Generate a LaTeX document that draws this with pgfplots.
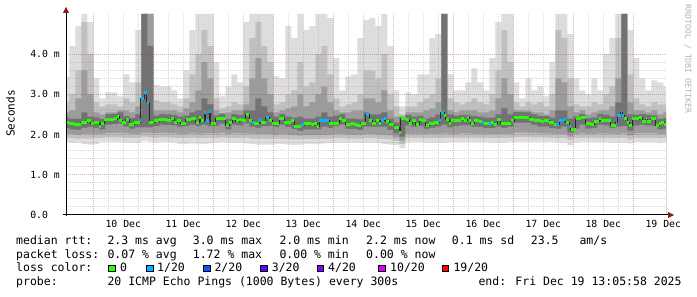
\documentclass[border=0pt]{standalone}
\usepackage{fontspec}
\setmainfont{DejaVu Sans Mono}
\usepackage{pgfplots}
\pgfplotsset{compat=1.18}
\usepackage{pgfplotstable}

\definecolor{c1}{HTML}{DDDDDD}
\definecolor{c2}{HTML}{C0C0C0}
\definecolor{c3}{HTML}{9C9C9C}
\definecolor{c4}{HTML}{727272}
\definecolor{lgreen}{HTML}{26FF00}
\definecolor{lone}{HTML}{00B8FF}
\definecolor{ltwo}{HTML}{0059FF}
\definecolor{lthree}{HTML}{5E00FF}
\definecolor{lfour}{HTML}{7E00FF}
\definecolor{lten}{HTML}{DD00FF}
\definecolor{lnineteen}{HTML}{FF0000}
\definecolor{mgrid}{HTML}{B03030}
\definecolor{mingrid}{HTML}{8C8C8C}
\definecolor{arrowred}{HTML}{8B1A1A}
\definecolor{wmark}{HTML}{B4B4B4}

% smoke bands: x (days, 10 = 10 Dec 00:00), upper/lower edges of the grey layers (ms)
\pgfplotstableread[row sep=\\]{
x u1 u2 u3 u4 l4 l3 l2 l1\\
9.5 3.44 2.80 2.55 2.43 2.17 2.02 1.92 1.81\\
9.6 4.20 3.00 2.60 2.39 2.13 2.01 1.91 1.80\\
9.7 4.70 3.60 2.90 2.40 2.12 2.00 1.90 1.80\\
9.8 5.00 4.80 3.60 2.55 2.17 2.01 1.90 1.76\\
9.9 4.80 4.00 3.00 2.45 2.19 2.02 1.90 1.75\\
10.0 3.40 2.80 2.55 2.43 2.17 2.02 1.91 1.76\\
10.1 2.90 2.70 2.50 2.39 2.13 2.02 1.92 1.82\\
10.2 3.05 2.75 2.55 2.51 2.25 2.04 1.93 1.82\\
10.3 3.05 2.75 2.55 2.52 2.26 2.04 1.93 1.81\\
10.4 2.95 2.70 2.60 2.55 2.27 2.04 1.93 1.81\\
10.5 3.50 2.90 2.60 2.46 2.20 2.03 1.92 1.80\\
10.6 3.30 2.80 2.55 2.41 2.15 2.02 1.92 1.80\\
10.7 4.60 3.30 2.70 2.50 2.18 2.02 1.92 1.79\\
10.8 5.00 5.00 5.00 5.00 2.18 2.05 1.95 1.84\\
10.9 5.00 5.00 5.00 4.20 2.18 2.04 1.93 1.82\\
11.0 3.24 2.85 2.60 2.47 2.21 2.03 1.92 1.80\\
11.1 3.20 2.80 2.60 2.51 2.25 2.04 1.93 1.81\\
11.2 3.20 2.80 2.60 2.50 2.24 2.03 1.93 1.81\\
11.3 3.10 2.75 2.60 2.49 2.23 2.03 1.92 1.80\\
11.4 2.90 2.70 2.55 2.45 2.19 2.02 1.91 1.77\\
11.5 3.60 2.90 2.65 2.47 2.21 2.02 1.91 1.77\\
11.6 4.60 3.50 2.80 2.55 2.25 2.03 1.92 1.78\\
11.7 5.00 4.00 3.10 2.60 2.22 2.02 1.91 1.77\\
11.8 5.00 4.60 3.80 2.90 2.25 2.03 1.92 1.77\\
11.9 5.00 4.20 3.40 2.75 2.22 2.03 1.92 1.78\\
12.0 3.80 2.90 2.60 2.48 2.22 2.03 1.92 1.80\\
12.1 2.95 2.65 2.50 2.53 2.27 2.04 1.93 1.81\\
12.2 3.20 2.70 2.55 2.39 2.13 2.01 1.91 1.80\\
12.3 3.50 2.80 2.60 2.51 2.25 2.03 1.92 1.80\\
12.4 3.30 2.75 2.60 2.49 2.23 2.03 1.92 1.80\\
12.5 4.80 3.20 2.75 2.60 2.28 2.03 1.92 1.78\\
12.6 5.00 4.40 3.40 2.60 2.20 2.02 1.90 1.76\\
12.7 5.00 4.80 3.90 2.90 2.17 2.01 1.90 1.75\\
12.8 5.00 4.20 3.40 2.70 2.21 2.01 1.90 1.75\\
12.9 5.00 3.80 3.00 2.55 2.22 2.01 1.90 1.75\\
13.0 3.45 2.75 2.55 2.45 2.19 2.00 1.90 1.76\\
13.1 3.40 2.80 2.60 2.51 2.25 2.01 1.90 1.76\\
13.2 4.70 3.00 2.65 2.45 2.19 2.00 1.89 1.75\\
13.3 4.40 3.10 2.70 2.42 2.14 1.99 1.88 1.74\\
13.4 5.00 3.80 3.00 2.45 2.09 1.98 1.88 1.75\\
13.5 4.60 3.20 2.70 2.40 2.13 1.99 1.89 1.77\\
13.6 4.70 3.30 2.80 2.40 2.13 1.99 1.89 1.77\\
13.7 5.00 4.00 3.00 2.45 2.13 1.99 1.89 1.77\\
13.8 5.00 4.20 3.20 2.55 2.20 2.00 1.90 1.78\\
13.9 4.90 3.50 2.80 2.45 2.17 2.00 1.90 1.79\\
14.0 3.90 2.90 2.60 2.47 2.21 2.01 1.91 1.80\\
14.1 3.10 2.70 2.55 2.51 2.25 2.02 1.91 1.80\\
14.2 3.45 2.75 2.55 2.40 2.14 2.00 1.90 1.80\\
14.3 3.50 2.80 2.60 2.40 2.14 2.00 1.90 1.80\\
14.4 4.40 3.00 2.60 2.38 2.12 2.00 1.90 1.80\\
14.5 4.85 3.60 2.90 2.55 2.20 2.01 1.91 1.80\\
14.6 4.90 3.60 2.90 2.50 2.19 2.01 1.91 1.80\\
14.7 4.70 3.40 2.80 2.50 2.19 2.00 1.90 1.79\\
14.8 5.00 4.00 3.10 2.55 2.20 2.00 1.89 1.76\\
14.9 4.20 3.00 2.60 2.40 2.12 1.98 1.88 1.75\\
15.0 3.10 2.70 2.45 2.30 2.03 1.93 1.84 1.74\\
15.1 2.70 2.50 2.40 2.45 1.95 1.85 1.76 1.66\\
15.2 3.05 2.70 2.55 2.49 2.23 2.02 1.92 1.80\\
15.3 3.00 2.70 2.55 2.45 2.19 2.02 1.92 1.81\\
15.4 3.50 2.80 2.55 2.47 2.21 2.02 1.92 1.81\\
15.5 3.50 2.90 2.60 2.40 2.14 2.01 1.91 1.80\\
15.6 4.40 3.00 2.65 2.43 2.17 2.01 1.91 1.80\\
15.7 4.50 3.40 2.80 2.50 2.20 2.02 1.91 1.80\\
15.8 5.00 5.00 5.00 5.00 2.25 2.03 1.92 1.80\\
15.9 3.50 2.90 2.60 2.50 2.18 2.02 1.92 1.81\\
16.0 3.10 2.80 2.55 2.47 2.21 2.02 1.92 1.81\\
16.1 3.10 2.75 2.60 2.49 2.23 2.03 1.92 1.81\\
16.2 3.30 2.80 2.60 2.49 2.23 2.03 1.92 1.81\\
16.3 3.65 2.90 2.60 2.46 2.20 2.02 1.92 1.81\\
16.4 3.30 2.80 2.55 2.45 2.19 2.02 1.92 1.81\\
16.5 3.10 2.75 2.55 2.42 2.16 2.02 1.92 1.81\\
16.6 3.90 3.00 2.60 2.42 2.16 2.01 1.91 1.80\\
16.7 4.80 3.60 2.90 2.50 2.20 2.01 1.91 1.80\\
16.8 5.00 4.60 3.40 2.65 2.17 2.01 1.91 1.80\\
16.9 5.00 3.80 3.00 2.50 2.19 2.02 1.92 1.81\\
17.0 3.30 2.80 2.60 2.56 2.30 2.05 1.94 1.82\\
17.1 2.90 2.70 2.60 2.56 2.30 2.05 1.94 1.82\\
17.2 3.40 2.80 2.60 2.55 2.29 2.05 1.94 1.82\\
17.3 3.10 2.75 2.55 2.50 2.24 2.04 1.93 1.82\\
17.4 3.20 2.80 2.55 2.46 2.20 2.03 1.93 1.82\\
17.5 2.95 2.70 2.50 2.46 2.20 2.03 1.93 1.82\\
17.6 3.80 3.00 2.60 2.42 2.16 2.02 1.92 1.81\\
17.7 5.00 4.60 3.40 2.60 2.15 2.01 1.91 1.80\\
17.8 5.00 4.40 3.30 2.60 2.20 2.01 1.91 1.80\\
17.9 4.50 3.40 2.70 2.40 2.05 1.95 1.86 1.73\\
18.0 3.40 2.75 2.55 2.45 2.15 2.01 1.91 1.80\\
18.1 3.10 2.70 2.60 2.51 2.25 2.03 1.92 1.81\\
18.2 3.00 2.70 2.50 2.41 2.15 2.02 1.92 1.81\\
18.3 3.40 2.80 2.55 2.43 2.17 2.02 1.92 1.81\\
18.4 3.10 2.75 2.60 2.51 2.25 2.03 1.92 1.81\\
18.5 4.00 3.00 2.60 2.49 2.23 2.03 1.92 1.81\\
18.6 4.40 3.20 2.70 2.45 2.17 2.02 1.92 1.80\\
18.7 5.00 4.40 3.40 2.80 2.20 2.02 1.92 1.80\\
18.8 5.00 5.00 5.00 5.00 2.22 2.03 1.92 1.80\\
18.9 4.60 3.50 2.80 2.50 2.10 1.98 1.88 1.78\\
19.0 3.90 2.90 2.60 2.49 2.23 2.03 1.92 1.81\\
19.1 3.40 2.75 2.60 2.51 2.25 2.03 1.92 1.81\\
19.2 3.10 2.70 2.55 2.49 2.23 2.03 1.92 1.81\\
19.3 3.35 2.80 2.60 2.48 2.22 2.03 1.92 1.81\\
19.4 3.30 2.75 2.50 2.39 2.13 2.01 1.91 1.80\\
19.5 3.20 2.75 2.55 2.41 2.15 2.02 1.92 1.81\\
19.6 3.20 2.75 2.55 2.41 2.15 2.02 1.92 1.81\\
}\bands

% median rtt (ms)
\pgfplotstableread[row sep=\\]{
x y\\
9.545 2.31\\ 9.595 2.27\\ 9.68 2.24\\ 9.79 2.30\\ 9.90 2.34\\ 9.956 2.28\\
10.012 2.31\\ 10.095 2.20\\ 10.123 2.28\\ 10.179 2.38\\ 10.345 2.39\\ 10.40 2.45\\
10.429 2.36\\ 10.484 2.30\\ 10.54 2.38\\ 10.595 2.26\\ 10.68 2.30\\ 10.779 2.34\\
10.79 2.89\\ 10.846 3.05\\ 10.89 2.80\\ 10.929 2.31\\ 11.012 2.34\\ 11.095 2.38\\
11.235 2.36\\ 11.29 2.40\\ 11.345 2.30\\ 11.40 2.35\\ 11.457 2.28\\ 11.54 2.38\\
11.623 2.40\\ 11.707 2.31\\ 11.762 2.43\\ 11.79 2.34\\ 11.845 2.55\\ 11.873 2.35\\
11.929 2.57\\ 11.957 2.28\\ 12.04 2.40\\ 12.206 2.22\\ 12.262 2.31\\ 12.318 2.40\\
12.373 2.34\\ 12.429 2.38\\ 12.484 2.34\\ 12.54 2.50\\ 12.595 2.36\\ 12.65 2.30\\
12.679 2.28\\ 12.762 2.34\\ 12.79 2.31\\ 12.873 2.42\\ 12.929 2.35\\ 12.984 2.28\\
13.095 2.40\\ 13.179 2.31\\ 13.29 2.34\\ 13.345 2.20\\ 13.456 2.24\\ 13.512 2.28\\
13.623 2.24\\ 13.679 2.28\\ 13.734 2.20\\ 13.762 2.34\\ 13.845 2.36\\ 13.929 2.28\\
14.095 2.40\\ 14.151 2.34\\ 14.206 2.26\\ 14.29 2.28\\ 14.345 2.26\\ 14.40 2.23\\
14.457 2.28\\ 14.54 2.50\\ 14.595 2.36\\ 14.65 2.28\\ 14.706 2.34\\ 14.762 2.28\\
14.79 2.36\\ 14.845 2.40\\ 14.873 2.32\\ 14.929 2.24\\ 15.012 2.18\\ 15.095 2.06\\
15.123 2.40\\ 15.206 2.38\\ 15.262 2.28\\ 15.318 2.36\\ 15.373 2.26\\ 15.429 2.38\\
15.484 2.34\\ 15.54 2.23\\ 15.595 2.28\\ 15.679 2.30\\ 15.762 2.34\\ 15.79 2.55\\
15.845 2.47\\ 15.873 2.38\\ 15.929 2.28\\ 15.957 2.34\\ 16.123 2.39\\ 16.179 2.36\\
16.235 2.43\\ 16.262 2.36\\ 16.29 2.28\\ 16.345 2.36\\ 16.429 2.32\\ 16.484 2.30\\
16.512 2.28\\ 16.595 2.28\\ 16.623 2.31\\ 16.679 2.26\\ 16.734 2.38\\ 16.79 2.28\\
16.957 2.34\\ 17.012 2.43\\ 17.262 2.38\\ 17.345 2.36\\ 17.456 2.32\\ 17.512 2.35\\
17.595 2.30\\ 17.679 2.26\\ 17.762 2.34\\ 17.845 2.38\\ 17.873 2.31\\ 17.929 2.20\\
17.957 2.13\\ 18.04 2.39\\ 18.123 2.43\\ 18.206 2.27\\ 18.29 2.26\\ 18.345 2.32\\
18.429 2.40\\ 18.457 2.36\\ 18.623 2.22\\ 18.706 2.30\\ 18.734 2.47\\ 18.79 2.56\\
18.818 2.47\\ 18.845 2.40\\ 18.9 2.30\\ 18.929 2.22\\ 18.984 2.39\\ 19.095 2.43\\
19.151 2.32\\ 19.206 2.39\\ 19.234 2.32\\ 19.29 2.39\\ 19.373 2.22\\ 19.429 2.28\\
19.457 2.31\\ 19.512 2.26\\ 19.545 2.26\\
}\median

\begin{document}
\begin{tikzpicture}
\fill[white] (0bp,0bp) rectangle (697bp,297bp);
\useasboundingbox (0bp,0bp) rectangle (697bp,297bp);
\begin{axis}[
  at={(66bp,82bp)}, anchor=south west,
  scale only axis, width=600bp, height=201bp,
  xmin=9.5455, xmax=19.5455, ymin=0, ymax=5,
  axis on top,
  axis line style={draw=none},
  tick style={draw=none},
  major tick length=0pt, minor tick length=0pt,
  xtick={10,11,12,13,14,15,16,17,18,19}, xticklabels={},
  minor x tick num=3,
  extra x ticks={10.5,11.5,12.5,13.5,14.5,15.5,16.5,17.5,18.5,19.5},
  extra x tick labels={10 Dec,11 Dec,12 Dec,13 Dec,14 Dec,15 Dec,16 Dec,17 Dec,18 Dec,19 Dec},
  extra x tick style={grid=none},
  xticklabel style={font=\fontsize{9.8bp}{10bp}\selectfont, anchor=base, inner sep=0pt, yshift=-13bp},
  ytick={0,1,2,3,4},
  yticklabels={0.0\hphantom{mm},1.0 m,2.0 m,3.0 m,4.0 m},
  minor y tick num=4,
  yticklabel style={font=\fontsize{9.8bp}{10bp}\selectfont, anchor=east, inner sep=0pt, xshift=-6bp},
  grid=both,
  major grid style={draw=mgrid, draw opacity=0.4, dash pattern=on 1bp off 1bp, line width=1bp},
  minor grid style={draw=mingrid, draw opacity=0.35, dash pattern=on 1bp off 1bp, line width=1bp},
]
\addplot[const plot, fill=c1, draw=none] table[x=x,y=u1]{\bands} \closedcycle;
\addplot[const plot, fill=c2, draw=none] table[x=x,y=u2]{\bands} \closedcycle;
\addplot[const plot, fill=c3, draw=none] table[x=x,y=u3]{\bands} \closedcycle;
\addplot[const plot, fill=c4, draw=none] table[x=x,y=u4]{\bands} \closedcycle;
\addplot[const plot, fill=c3, draw=none] table[x=x,y=l4]{\bands} \closedcycle;
\addplot[const plot, fill=c2, draw=none] table[x=x,y=l3]{\bands} \closedcycle;
\addplot[const plot, fill=c1, draw=none] table[x=x,y=l2]{\bands} \closedcycle;
\addplot[const plot, fill=white, draw=none] table[x=x,y=l1]{\bands} \closedcycle;
% median
\addplot[const plot, draw=black!85, line width=0.8bp] table[x=x,y=y]{\median};
\addplot[jump mark left, draw=lgreen, line width=3bp] table[x=x,y=y]{\median};
% 1/20 loss parts of the median
\addplot[draw=lone, line width=3bp, unbounded coords=jump] coordinates {
(10.779,2.34) (10.79,2.34) (10.79,nan)
(10.79,2.89) (10.846,2.89) (10.846,nan)
(10.846,3.05) (10.89,3.05) (10.89,nan)
(10.89,2.80) (10.929,2.80) (10.929,nan)
(11.845,2.55) (11.873,2.55) (11.873,nan)
(11.873,2.35) (11.929,2.35) (11.929,nan)
(11.929,2.57) (11.957,2.57) (11.957,nan)
(12.65,2.30) (12.679,2.30) (12.679,nan)
(12.762,2.34) (12.79,2.34) (12.79,nan)
(12.873,2.42) (12.929,2.42) (12.929,nan)
(13.456,2.24) (13.512,2.24) (13.512,nan)
(13.762,2.34) (13.845,2.34) (13.845,nan)
(13.845,2.36) (13.929,2.36) (13.929,nan)
(14.54,2.50) (14.595,2.50) (14.595,nan)
(14.79,2.36) (14.845,2.36) (14.845,nan)
(14.845,2.40) (14.873,2.40) (14.873,nan)
(15.762,2.34) (15.79,2.34) (15.79,nan)
(15.79,2.55) (15.845,2.55) (15.845,nan)
(16.484,2.30) (16.512,2.30) (16.512,nan)
(16.595,2.28) (16.623,2.28) (16.623,nan)
(17.706,2.26) (17.762,2.26) (17.762,nan)
(17.762,2.34) (17.845,2.34) (17.845,nan)
(17.845,2.38) (17.873,2.38) (17.873,nan)
(17.929,2.20) (17.957,2.20) (17.957,nan)
(18.706,2.30) (18.734,2.30) (18.734,nan)
(18.734,2.47) (18.79,2.47) (18.79,nan)
(18.79,2.56) (18.818,2.56) (18.818,nan)
(18.818,2.47) (18.845,2.47)
};
\end{axis}
% axis lines with arrow heads
\draw[black, line width=1bp] (63bp,82bp) -- (668bp,82bp);
\draw[black, line width=1bp] (66bp,81bp) -- (66bp,284bp);
\fill[arrowred] (668bp,79bp) -- (674bp,82bp) -- (668bp,85bp) -- cycle;
\fill[arrowred] (63bp,284bp) -- (66bp,290bp) -- (69bp,284bp) -- cycle;
% y label and watermark
\node[rotate=90, font=\fontsize{11.1bp}{12bp}\selectfont, inner sep=0pt] at (10.5bp,183.5bp) {Seconds};
\node[rotate=-90, font=\fontsize{8.2bp}{9bp}\selectfont, text=wmark, inner sep=0pt] at (688bp,238bp) {RRDTOOL / TOBI OETIKER};
% legend
\begin{scope}[every node/.style={anchor=base west, inner sep=0pt, font=\fontsize{11.5bp}{13bp}\selectfont}]
\node at (16bp,52.7bp) {median rtt:};
\node at (107.3bp,52.7bp) {2.3 ms avg};
\node at (192.7bp,52.7bp) {3.0 ms max};
\node at (279.3bp,52.7bp) {2.0 ms min};
\node at (366bp,52.7bp) {2.2 ms now};
\node at (451.7bp,52.7bp) {0.1 ms sd};
\node at (530.7bp,52.7bp) {23.5};
\node at (579.3bp,52.7bp) {am/s};
\node at (16bp,38.7bp) {packet loss:};
\node at (107.3bp,38.7bp) {0.07 \% avg};
\node at (192.7bp,38.7bp) {1.72 \% max};
\node at (279.3bp,38.7bp) {0.00 \% min};
\node at (366bp,38.7bp) {0.00 \% now};
\node at (16bp,25.3bp) {loss color:};
\node at (120bp,25.3bp) {0};
\node at (157bp,25.3bp) {1/20};
\node at (214.3bp,25.3bp) {2/20};
\node at (271.7bp,25.3bp) {3/20};
\node at (328bp,25.3bp) {4/20};
\node at (390bp,25.3bp) {10/20};
\node at (453.3bp,25.3bp) {19/20};
\node at (16bp,11.3bp) {probe:};
\node at (107.3bp,11.3bp) {20 ICMP Echo Pings (1000 Bytes) every 300s};
\node at (478.3bp,11.3bp) {end: Fri Dec 19 13:05:58 2025};
\end{scope}
\begin{scope}[line width=0.6bp, draw=black]
\filldraw[fill=lgreen] (108.5bp,25.3bp) rectangle ++(6.5bp,6.8bp);
\filldraw[fill=lone] (146.3bp,25.3bp) rectangle ++(6.5bp,6.8bp);
\filldraw[fill=ltwo] (203.3bp,25.3bp) rectangle ++(6.5bp,6.8bp);
\filldraw[fill=lthree] (260.3bp,25.3bp) rectangle ++(6.5bp,6.8bp);
\filldraw[fill=lfour] (316.8bp,25.3bp) rectangle ++(6.5bp,6.8bp);
\filldraw[fill=lten] (378.5bp,25.3bp) rectangle ++(6.5bp,6.8bp);
\filldraw[fill=lnineteen] (441.9bp,25.3bp) rectangle ++(6.5bp,6.8bp);
\end{scope}
\end{tikzpicture}
\end{document}
